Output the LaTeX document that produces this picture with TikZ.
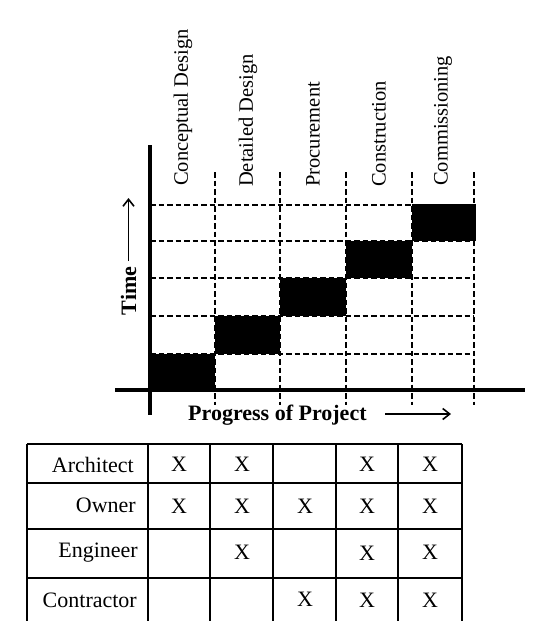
\documentclass[tikz,border=0pt]{standalone}
\usepackage{fontspec}
\setmainfont{Liberation Serif}
\usetikzlibrary{arrows.meta}
\begin{document}
\begin{tikzpicture}[x=1pt,y=-1pt,
  phase/.style={rotate=90,anchor=west,inner sep=0pt,font=\fontsize{20.5}{24}\selectfont},
  gridline/.style={dashed,dash pattern=on 5.5pt off 3pt,line width=1.1pt},
  axisline/.style={line width=3.5pt},
  blk/.style={fill=black},
  tline/.style={line width=1.1pt},
  role/.style={anchor=base east,inner sep=0pt,font=\fontsize{22}{26}\selectfont},
  xmark/.style={anchor=base,inner sep=0pt,font=\fontsize{22}{26}\selectfont},
  axlabel/.style={inner sep=0pt,font=\fontsize{22}{26}\selectfont\bfseries},
  arr/.style={line width=1.6pt,-{Straight Barb[length=7pt,width=11pt,line width=1.6pt]}}]
\useasboundingbox (0,0) rectangle (537,621);
\fill[white] (0,0) rectangle (537,621);
% phase labels
\node[phase] (p1) at (183,186) {Conceptual Design};
\node[phase] (p2) at (248,187) {Detailed Design};
\node[phase] (p3) at (313,187) {Procurement};
\node[phase] (p4) at (379,187) {Construction};
\node[phase] (p5) at (443,186) {Commissioning};
% dashed grid
\foreach \x in {215,280,346,412,474} \draw[gridline] (\x,172) -- (\x,405);
\foreach \y in {205,241,278,316,354} \draw[gridline] (150,\y) -- (474,\y);
% black blocks
\fill[blk] (150,354) rectangle (215,390);
\fill[blk] (215,316) rectangle (280,354);
\fill[blk] (280,278) rectangle (346,316);
\fill[blk] (346,241) rectangle (412,278);
\fill[blk] (412,204) rectangle (476,241);
% axes
\draw[axisline] (150,145) -- (150,415);
\draw[line width=3.2pt] (115,390) -- (525,390);
% axis labels
\node[axlabel,rotate=90] (time) at (128.5,291) {Time};
\coordinate (ta) at (128.5,261);
\coordinate (tb) at (128.5,198);
\draw[arr] (ta) -- (tb);
\node[axlabel,anchor=base west] (prog) at (188,420) {Progress of Project};
\coordinate (pa) at (385,414);
\coordinate (pb) at (451,414);
\draw[arr] (pa) -- (pb);
% table
\foreach \y in {444,483,529,578} \draw[tline] (27,\y) -- (462,\y);
\foreach \x in {27,210,273,336,398,462} \draw[tline] (\x,444) -- (\x,621);
\draw[line width=2.2pt] (148,444) -- (148,621);
\node[role] (r1) at (134,472) {Architect};
\node[role] (r2) at (136,512) {Owner};
\node[role] (r3) at (138,557) {Engineer};
\node[role] (r4) at (137,607) {Contractor};
% marks
\node[xmark] (a1) at (179,471) {X};
\node[xmark] (a2) at (242,471) {X};
\node[xmark] (a4) at (367,471) {X};
\node[xmark] (a5) at (430,471) {X};
\node[xmark] (o1) at (179,513) {X};
\node[xmark] (o2) at (242,513) {X};
\node[xmark] (o3) at (305,513) {X};
\node[xmark] (o4) at (367,513) {X};
\node[xmark] (o5) at (430,513) {X};
\node[xmark] (e2) at (242,559) {X};
\node[xmark] (e4) at (367,560) {X};
\node[xmark] (e5) at (430,559) {X};
\node[xmark] (c3) at (305,606) {X};
\node[xmark] (c4) at (367,607) {X};
\node[xmark] (c5) at (430,607) {X};
\end{tikzpicture}
\end{document}
